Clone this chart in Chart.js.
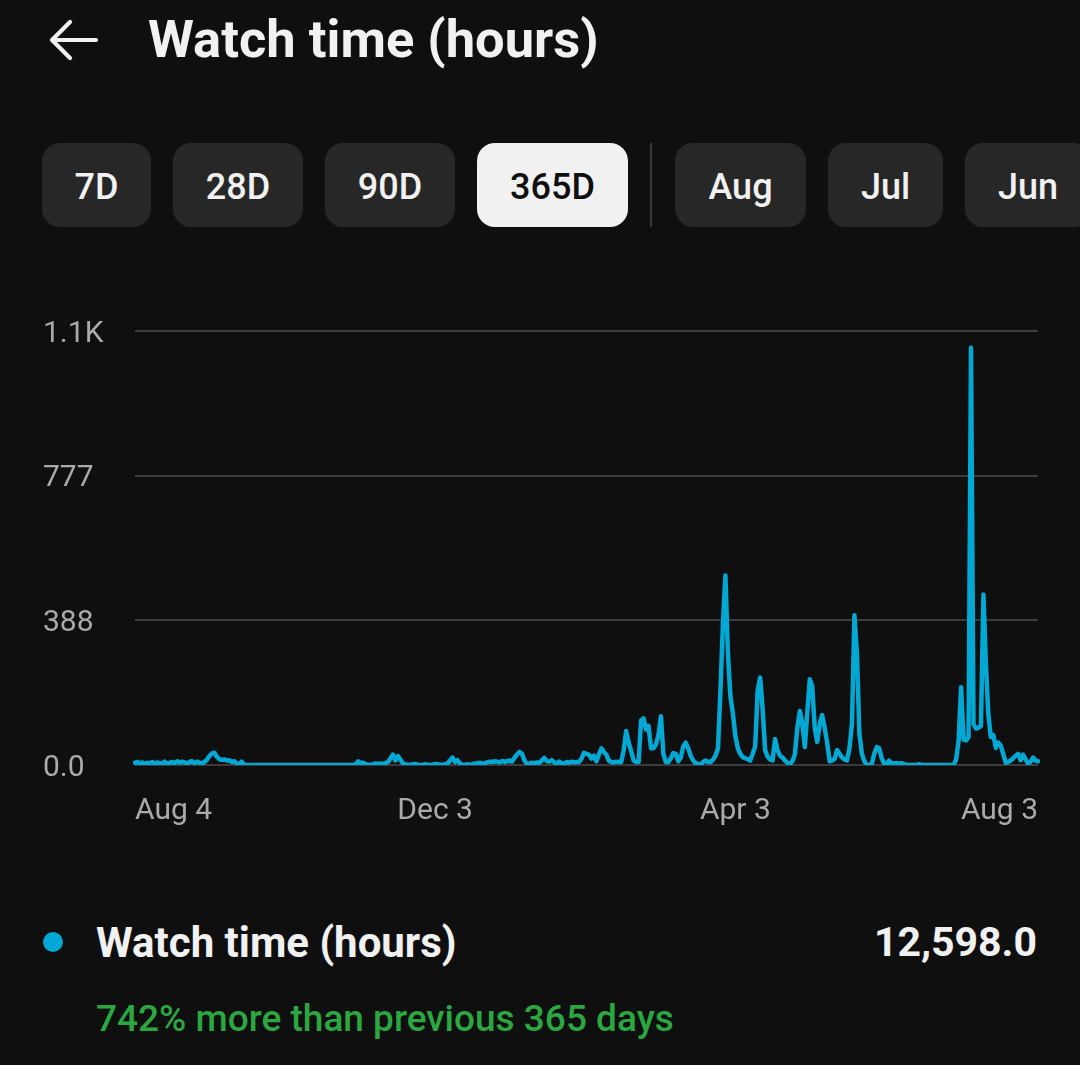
<!DOCTYPE html>
<html>
<head>
<meta charset="utf-8">
<script src="https://cdn.jsdelivr.net/npm/chart.js@4.4.0/dist/chart.umd.min.js"></script>
<style>
  html, body { margin: 0; padding: 0; background: #0f0f0f; }
  body { width: 1080px; height: 1065px; position: relative; overflow: hidden; font-family: Roboto, "Noto Sans", sans-serif; color: #f1f1f1; }
  .abs { position: absolute; white-space: nowrap; }
  #title { left: 148px; top: 13px; font-size: 52.5px; line-height: 1; font-weight: 700; }
  .btn { position: absolute; top: 143px; height: 84px; box-sizing: border-box; padding-top: 3px; border-radius: 18px; background: #272727; color: #f1f1f1;
         font-size: 36px; font-weight: 500; display: flex; align-items: center; justify-content: center; }
  .btn.sel { background: #f1f1f1; color: #0f0f0f; }
  #sep { position: absolute; left: 650px; top: 143px; width: 2px; height: 84px; background: #3a3a3a; }
  #chartWrap { position: absolute; left: 0; top: 300px; width: 1080px; height: 560px; }
  #dot { position: absolute; left: 43px; top: 932px; width: 20px; height: 20px; border-radius: 50%; background: #00a8d3; }
  #legLabel { left: 96px; top: 922px; font-size: 42px; line-height: 1; font-weight: 700; }
  #legValue { right: 43px; top: 922px; font-size: 41px; line-height: 1; font-weight: 700; }
  #change { left: 96px; top: 1000px; font-size: 37px; line-height: 1; font-weight: 500; color: #2ba640; }
</style>
</head>
<body>
<svg class="abs" style="left:44px;top:14px" width="60" height="52" viewBox="0 0 60 52">
  <path d="M52 26 H8 M26 8 L8 26 L26 44" fill="none" stroke="#f1f1f1" stroke-width="4.2" stroke-linecap="round" stroke-linejoin="round"/>
</svg>
<div id="title" class="abs">Watch time (hours)</div>

<div class="btn" style="left:42px;width:109px;">7D</div>
<div class="btn" style="left:173px;width:130px;">28D</div>
<div class="btn" style="left:325px;width:130px;">90D</div>
<div class="btn sel" style="left:477px;width:151px;">365D</div>
<div id="sep"></div>
<div class="btn" style="left:675px;width:131px;">Aug</div>
<div class="btn" style="left:828px;width:115px;">Jul</div>
<div class="btn" style="left:965px;width:126px;">Jun</div>

<div id="chartWrap"><canvas id="c" width="1080" height="560"></canvas></div>

<div id="dot"></div>
<div id="legLabel" class="abs">Watch time (hours)</div>
<div id="legValue" class="abs">12,598.0</div>
<div id="change" class="abs">742% more than previous 365 days</div>

<script>
// ---- data (daily watch time, hours) ----
const startMonth = 7;   // Aug (0-based)
const startDay = 4;
const startYear = 2022;
const dayCount = 365;
const monthNames = ["Jan","Feb","Mar","Apr","May","Jun","Jul","Aug","Sep","Oct","Nov","Dec"];

const watchHours = [
  6,8,4,7,3,6,5,8,2,7,
  5,4,9,3,6,8,5,10,6,9,
  7,4,8,10,5,9,6,4,8,14,
  24,31,33,22,16,14,15,12,13,8,
  10,4,2,9,1,0,0,0,0,0,
  0,0,0,0,0,0,0,0,0,0,
  0,0,0,0,0,0,0,0,0,0,
  0,0,0,0,0,0,0,0,0,0,
  0,0,0,0,0,0,0,0,0,2,
  10,5,6,2,1,0,2,4,3,4,
  3,5,8,18,28,12,24,14,4,2,
  1,0,2,3,1,0,0,2,1,0,
  1,3,2,1,0,2,4,12,20,8,
  13,4,1,0,2,1,2,4,5,6,
  4,5,7,9,8,10,9,7,11,8,
  10,12,9,20,28,35,30,12,3,4,
  6,5,7,6,12,19,10,9,13,7,
  4,9,5,2,8,6,9,7,8,8,
  17,33,30,28,17,25,10,28,45,35,
  28,12,8,7,9,8,8,40,91,60,
  37,12,8,8,120,125,95,105,45,45,
  55,80,131,30,8,8,18,32,30,10,
  20,50,60,45,25,12,5,3,0,8,
  12,8,8,14,25,45,200,380,509,300,
  185,140,78,45,30,21,18,16,12,30,
  50,200,235,150,40,22,15,12,70,40,
  25,20,12,6,3,10,28,100,145,110,
  48,140,230,210,100,62,110,134,100,60,
  10,12,16,40,30,20,15,12,45,110,
  402,300,85,30,10,0,0,3,30,48,
  45,18,4,2,12,3,5,5,4,5,
  2,0,0,0,0,0,2,0,0,0,
  0,0,0,0,0,0,0,0,0,0,
  0,15,65,209,68,66,75,1120,110,98,
  100,105,458,270,134,75,80,46,60,52,
  30,6,8,12,18,25,30,13,28,15,
  4,8,20,12,10
];

const xTickLabels = ["Aug 4", "Dec 3", "Apr 3", "Aug 3"];
const yTickValues = [0, 388.33, 776.67, 1165];
const yTickLabels = ["0.0", "388", "777", "1.1K"];

// category labels: one per day
const dayLabels = [];
for (let i = 0; i < dayCount; i++) {
  const d = new Date(startYear, startMonth, startDay + i);
  dayLabels.push(monthNames[d.getMonth()] + " " + d.getDate());
}

const lineColor = "#00a8d3";
const gridColor = "#3b3b3b";
const tickColor = "#aaaaaa";
const tickFont = { family: "Roboto", size: 30, weight: "400" };

new Chart(document.getElementById("c"), {
  type: "line",
  data: {
    labels: dayLabels,
    datasets: [{
      data: watchHours,
      borderColor: lineColor,
      borderWidth: 4.5,
      pointRadius: 0,
      tension: 0,
      fill: false,
      borderJoinStyle: "round",
      borderCapStyle: "round"
    }]
  },
  options: {
    responsive: false,
    animation: false,
    devicePixelRatio: 1,
    layout: { padding: { left: 43, right: 42, top: 31, bottom: 33 } },
    plugins: { legend: { display: false }, tooltip: { enabled: false } },
    scales: {
      x: {
        type: "category",
        grid: { display: false, drawTicks: false },
        border: { display: false },
        afterFit: (s) => { s.height = 62; },
        ticks: {
          autoSkip: false,
          maxRotation: 0,
          minRotation: 0,
          align: "inner",
          padding: 28,
          color: tickColor,
          font: tickFont,
          callback: function (value, index) {
            const lab = this.getLabelForValue(value);
            return xTickLabels.includes(lab) ? lab : null;
          }
        }
      },
      y: {
        min: 0,
        max: yTickValues[yTickValues.length - 1],
        afterBuildTicks: (s) => { s.ticks = yTickValues.map(v => ({ value: v })); },
        afterFit: (s) => { s.width = 92; },
        grid: { color: gridColor, lineWidth: 2, drawTicks: false },
        border: { display: false },
        ticks: {
          crossAlign: "far",
          padding: 0,
          labelOffset: 3,
          color: tickColor,
          font: tickFont,
          callback: (v, i) => yTickLabels[i]
        }
      }
    }
  }
});
</script>
</body>
</html>
